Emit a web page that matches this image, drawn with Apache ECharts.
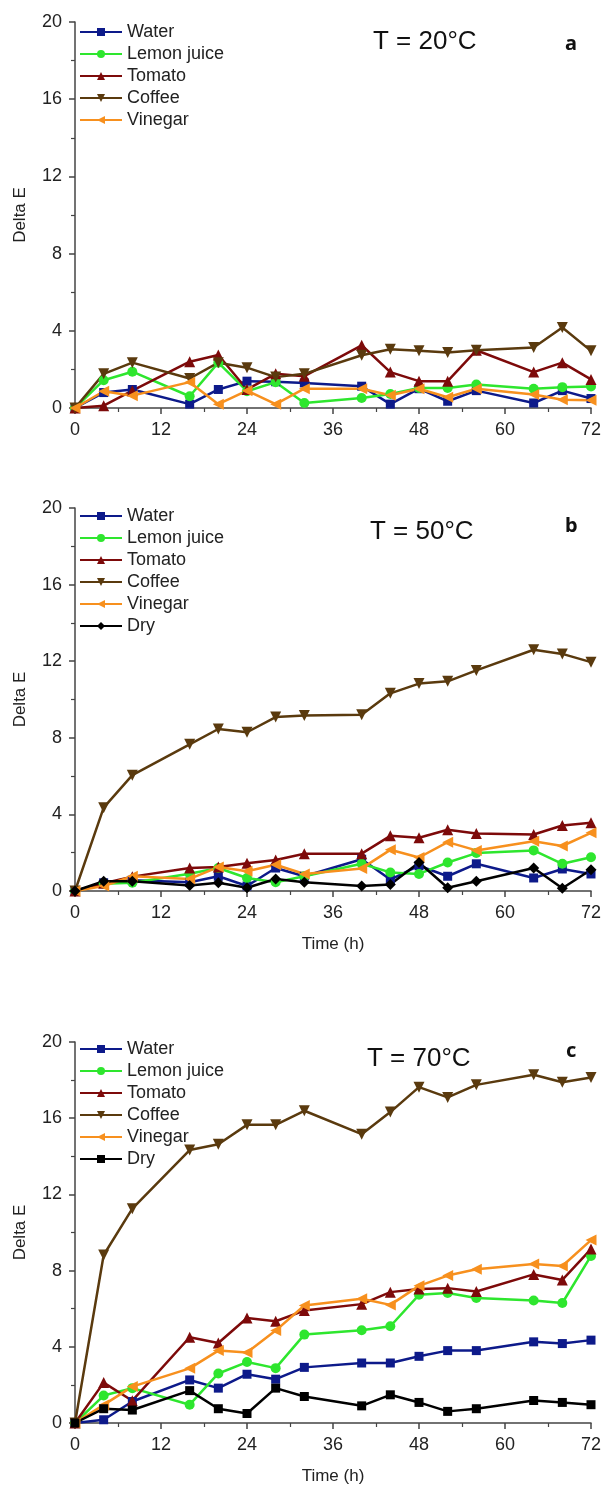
<!DOCTYPE html>
<html>
<head>
<meta charset="utf-8">
<script src="https://cdn.jsdelivr.net/npm/echarts@6/dist/echarts.min.js"></script>
<style>
  html, body { margin: 0; padding: 0; background: #fff; }
  #chart { width: 605px; height: 1492px; }
</style>
</head>
<body>
<div id="chart"></div>
<script>
// 时间点 (h)
var hours = [0, 4, 8, 16, 20, 24, 28, 32, 40, 44, 48, 52, 56, 64, 68, 72];
var xTicks = [0, 12, 24, 36, 48, 60, 72];
var yTicks = [0, 4, 8, 12, 16, 20];

// T = 20°C
var waterA   = [0, 0.8, 0.96, 0.2, 0.96, 1.39, 1.36, 1.3, 1.13, 0.2, 1.0, 0.35, 0.9, 0.26, 0.9, 0.49];
var lemonA   = [0, 1.44, 1.88, 0.61, 2.35, 0.87, 1.34, 0.26, 0.52, 0.73, 1.04, 1.04, 1.22, 1.0, 1.08, 1.11];
var tomatoA  = [0, 0.12, 0.9, 2.4, 2.75, 0.96, 1.77, 1.65, 3.25, 1.86, 1.39, 1.39, 2.99, 1.86, 2.35, 1.48];
var coffeeA  = [0, 1.77, 2.35, 1.53, 2.35, 2.09, 1.6, 1.77, 2.73, 3.04, 2.96, 2.87, 2.99, 3.13, 4.17, 2.96];
var vinegarA = [0, 0.87, 0.64, 1.34, 0.2, 0.9, 0.2, 1.0, 1.0, 0.66, 1.0, 0.56, 1.0, 0.7, 0.43, 0.4];

// T = 50°C
var waterB   = [0, 0.43, 0.56, 0.46, 0.77, 0.26, 1.2, 0.77, 1.66, 0.6, 1.32, 0.77, 1.42, 0.68, 1.15, 0.89];
var lemonB   = [0, 0.38, 0.43, 0.9, 1.2, 0.68, 0.46, 0.77, 1.42, 0.97, 0.89, 1.49, 1.98, 2.12, 1.42, 1.76];
var tomatoB  = [0, 0.4, 0.75, 1.2, 1.25, 1.45, 1.62, 1.95, 1.95, 2.88, 2.78, 3.2, 3.0, 2.95, 3.42, 3.57];
var coffeeB  = [0, 4.35, 6.05, 7.66, 8.46, 8.29, 9.08, 9.17, 9.2, 10.32, 10.83, 10.95, 11.52, 12.6, 12.38, 11.95];
var vinegarB = [0, 0.26, 0.77, 0.63, 1.25, 1.03, 1.37, 0.89, 1.18, 2.15, 1.75, 2.55, 2.12, 2.6, 2.35, 3.04];
var dryB     = [0, 0.51, 0.51, 0.29, 0.43, 0.17, 0.63, 0.46, 0.26, 0.34, 1.49, 0.17, 0.51, 1.2, 0.14, 1.11];

// T = 70°C
var waterC   = [0, 0.17, 1.13, 2.26, 1.83, 2.56, 2.3, 2.92, 3.15, 3.15, 3.5, 3.8, 3.8, 4.26, 4.17, 4.35];
var lemonC   = [0, 1.44, 1.83, 0.96, 2.6, 3.2, 2.88, 4.64, 4.87, 5.08, 6.73, 6.82, 6.56, 6.43, 6.3, 8.77];
var tomatoC  = [0, 2.12, 1.17, 4.5, 4.2, 5.51, 5.34, 5.9, 6.24, 6.87, 7.04, 7.08, 6.9, 7.8, 7.51, 9.13];
var coffeeC  = [0, 8.82, 11.25, 14.33, 14.63, 15.65, 15.65, 16.39, 15.16, 16.32, 17.63, 17.09, 17.75, 18.28, 17.89, 18.14];
var vinegarC = [0, 0.95, 1.91, 2.87, 3.8, 3.7, 4.85, 6.17, 6.52, 6.2, 7.2, 7.74, 8.07, 8.35, 8.24, 9.6];
var dryC     = [0, 0.75, 0.68, 1.7, 0.75, 0.5, 1.83, 1.39, 0.9, 1.48, 1.08, 0.61, 0.75, 1.18, 1.08, 0.96];

var FONT = "Liberation Sans";

// 样式
var styles = {
    water:   { color: "#0d1a8a", symbol: "rect", rotate: 0, size: 9 },
    lemon:   { color: "#2ee62e", symbol: "circle", rotate: 0, size: 10 },
    tomato:  { color: "#7d0a0a", symbol: "triangle", rotate: 0, size: 11 },
    coffee:  { color: "#5a3a0e", symbol: "triangle", rotate: 180, size: 11 },
    vinegar: { color: "#f7901e", symbol: "triangle", rotate: 90, size: 11 },
    dryD:    { color: "#000000", symbol: "diamond", rotate: 0, size: 11 },
    dryS:    { color: "#000000", symbol: "rect", rotate: 0, size: 9 }
};

function pairs(vals) {
    var arr = [];
    for (var i = 0; i < hours.length; i++) {
        arr.push([hours[i], vals[i]]);
    }
    return arr;
}

function makeSeries(name, vals, st, idx) {
    return {
        name: name,
        type: "line",
        xAxisIndex: idx,
        yAxisIndex: idx,
        data: pairs(vals),
        symbol: st.symbol,
        symbolRotate: st.rotate,
        symbolSize: st.size,
        showAllSymbol: true,
        lineStyle: { color: st.color, width: 2.5 },
        itemStyle: { color: st.color },
        emphasis: { disabled: true },
        animation: false,
        z: 3
    };
}

// 三个面板的位置
var panels = [
    { top: 22, height: 386, timeLabel: false },
    { top: 508, height: 383, timeLabel: true },
    { top: 1042, height: 381, timeLabel: true }
];

var grids = [], xAxes = [], yAxes = [];
for (var p = 0; p < panels.length; p++) {
    grids.push({ left: 75, width: 516, top: panels[p].top, height: panels[p].height });
    xAxes.push({
        type: "value",
        gridIndex: p,
        min: 0, max: 72, interval: 12,
        name: panels[p].timeLabel ? "Time (h)" : "",
        nameLocation: "middle",
        nameGap: 45,
        nameTextStyle: { fontFamily: FONT, fontSize: 17, color: "#222" },
        axisLine: { show: true, lineStyle: { color: "#444", width: 1.5 } },
        axisTick: { show: true, length: 6, lineStyle: { color: "#444", width: 1.5 } },
        minorTick: { show: true, splitNumber: 2, length: 4, lineStyle: { color: "#444", width: 1.2 } },
        axisLabel: {
            fontFamily: FONT, fontSize: 18, color: "#222", margin: 13,
            formatter: function (v) { return xTicks.indexOf(v) >= 0 ? String(v) : ""; }
        },
        splitLine: { show: false }
    });
    yAxes.push({
        type: "value",
        gridIndex: p,
        min: 0, max: 20, interval: 4,
        name: "Delta E",
        nameLocation: "middle",
        nameRotate: 90,
        nameGap: 46,
        nameTextStyle: { fontFamily: FONT, fontSize: 17, color: "#222" },
        axisLine: { show: true, lineStyle: { color: "#444", width: 1.5 } },
        axisTick: { show: true, length: 6, lineStyle: { color: "#444", width: 1.5 } },
        minorTick: { show: true, splitNumber: 2, length: 4, lineStyle: { color: "#444", width: 1.2 } },
        axisLabel: {
            fontFamily: FONT, fontSize: 18, color: "#222", margin: 13,
            formatter: function (v) { return yTicks.indexOf(v) >= 0 ? String(v) : ""; }
        },
        splitLine: { show: false }
    });
}

var series = [
    makeSeries("Water", waterA, styles.water, 0),
    makeSeries("Lemon juice", lemonA, styles.lemon, 0),
    makeSeries("Tomato", tomatoA, styles.tomato, 0),
    makeSeries("Coffee", coffeeA, styles.coffee, 0),
    makeSeries("Vinegar", vinegarA, styles.vinegar, 0),

    makeSeries("Water", waterB, styles.water, 1),
    makeSeries("Lemon juice", lemonB, styles.lemon, 1),
    makeSeries("Tomato", tomatoB, styles.tomato, 1),
    makeSeries("Coffee", coffeeB, styles.coffee, 1),
    makeSeries("Vinegar", vinegarB, styles.vinegar, 1),
    makeSeries("Dry", dryB, styles.dryD, 1),

    makeSeries("Water", waterC, styles.water, 2),
    makeSeries("Lemon juice", lemonC, styles.lemon, 2),
    makeSeries("Tomato", tomatoC, styles.tomato, 2),
    makeSeries("Coffee", coffeeC, styles.coffee, 2),
    makeSeries("Vinegar", vinegarC, styles.vinegar, 2),
    makeSeries("Dry ", dryC, styles.dryS, 2)   //样式与b不同，名称加空格区分
];

function makeLegend(names, top) {
    return {
        orient: "vertical",
        left: 79,
        top: top,
        padding: 0,
        itemWidth: 42,
        itemHeight: 10,
        itemGap: 4,
        selectedMode: false,
        data: names,
        formatter: function (n) { return n.trim(); },
        textStyle: { fontFamily: FONT, fontSize: 18, color: "#222" }
    };
}

var legends = [
    makeLegend(["Water", "Lemon juice", "Tomato", "Coffee", "Vinegar"], 23),
    makeLegend(["Water", "Lemon juice", "Tomato", "Coffee", "Vinegar", "Dry"], 507),
    makeLegend(["Water", "Lemon juice", "Tomato", "Coffee", "Vinegar", "Dry "], 1040)
];

var titleStyle = { fontFamily: FONT, fontSize: 26, fontWeight: "normal", color: "#111" };
var tagStyle = { fontFamily: "Noto Sans", fontSize: 20, fontWeight: "bold", color: "#111" };

var option = {
    backgroundColor: "#fff",
    animation: false,
    title: [
        { text: "T = 20°C", left: 368, top: 24, textStyle: titleStyle },
        { text: "a", left: 560, top: 29, textStyle: tagStyle },
        { text: "T = 50°C", left: 365, top: 514, textStyle: titleStyle },
        { text: "b", left: 560, top: 511, textStyle: tagStyle },
        { text: "T = 70°C", left: 362, top: 1041, textStyle: titleStyle },
        { text: "c", left: 561, top: 1036, textStyle: tagStyle }
    ],
    legend: legends,
    grid: grids,
    xAxis: xAxes,
    yAxis: yAxes,
    series: series
};

var myChart = echarts.init(document.getElementById("chart"), null, { renderer: "canvas" });
myChart.setOption(option);
</script>
</body>
</html>
